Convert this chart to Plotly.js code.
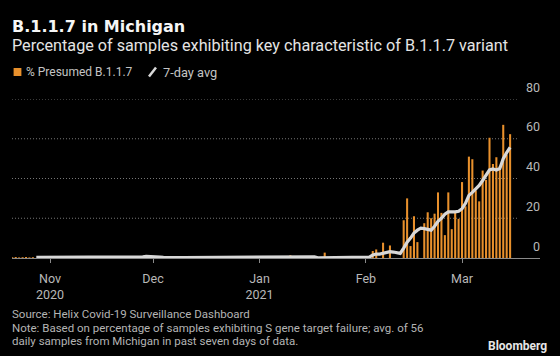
<!DOCTYPE html>
<html>
<head>
<meta charset="utf-8">
<script src="https://cdn.plot.ly/plotly-3.0.1.min.js"></script>
<style>
html,body{margin:0;padding:0;background:#000;}
#chart{width:560px;height:356px;}
</style>
</head>
<body>
<div id="chart"></div>
<script>
// ---- data ----
const startDate = '2020-10-21';
const presumedOct = [0.4,0.5,0.3,0.4,0.5,0.3,0.4,0,0,0,0];
const presumedNov = [0,0,0,0,0,0,0,0,0,0,0,0,0,0,0,0,0,0,0,0,0,0,0,0,0,0,0,0,1.2,0];
const presumedDec = [0.8,0,0,0,0,0,0,0,0,0,0,0,0,0,0,0,0.6,0,0,0,0,0,0,0,0,0,0,0,0,0,0];
const presumedJan = [0,0,0,0,0,0,0,1.0,0,1.4,0,0.8,0,0,0,0,0,0,0,2.7,0,0,0,0,0,0,0,0,0,0,0];
const presumedFeb = [0,0,3.5,4.3,0,7.7,0,6.3,0,0,0,19,30,6,21,8,0,17.5,23,20,22.3,33,22.7,11.5,33,14.5,23,19.7];
const presumedMar = [38.2,26,51,49.7,34,28.5,44,39.3,60.5,47.3,50.7,46.3,67,52,62.3];

const avgOct = [null,null,null,null,null,null,null,0.3,0.3,0.3,0.3];
const avgNov = [0.3,0.3,0.3,0.3,0.3,0.3,0.3,0.3,0.3,0.3,0.3,0.3,0.3,0.3,0.3,0.3,0.3,0.3,0.3,0.3,0.3,0.3,0.3,0.3,0.3,0.3,0.4,0.6,0.8,0.8];
const avgDec = [0.8,0.7,0.5,0.3,0.2,0.2,0.2,0.2,0.2,0.2,0.2,0.2,0.2,0.2,0.2,0.2,0.3,0.3,0.3,0.3,0.3,0.3,0.2,0.2,0.2,0.2,0.2,0.2,0.2,0.2,0.2];
const avgJan = [0.2,0.2,0.2,0.2,0.2,0.2,0.6,0.6,0.6,0.6,0.6,0.6,0.6,0.6,0.6,0.6,0.6,0.1,0.1,0.1,0.5,0.5,0.5,0.5,0.5,0.5,0.5,0.2,0.2,0.2,0.2];
const avgFeb = [0.2,0.5,1.5,2,2,2.3,2.8,3.2,3,2.6,2.3,5,8,10,12.5,14,15,14.8,14.5,14,16,18.5,20,22,23.2,23,23.2,23.5];
const avgMar = [24.8,27.5,31.5,33,34.8,36.5,39,41.5,44.3,44.8,44.3,45,50,53,55.7];

const monthTickVals = ['2020-11-01','2020-12-01','2021-01-01','2021-02-01','2021-03-01'];
const monthTickText = ['Nov<br>2020','Dec','Jan<br>2021','Feb','Mar'];
const yTickVals = [0,20,40,60,80];

// ---- assemble ----
const presumed = [].concat(presumedOct, presumedNov, presumedDec, presumedJan, presumedFeb, presumedMar);
const avg = [].concat(avgOct, avgNov, avgDec, avgJan, avgFeb, avgMar);
const dates = [];
(function(){
  const d0 = new Date(startDate + 'T00:00:00Z');
  for (let i = 0; i < presumed.length; i++) {
    const d = new Date(d0.getTime() + i*86400000);
    dates.push(d.toISOString().slice(0,10));
  }
})();

// pixel helpers (plot area: x 12..540, y 99..258)
const L = 12, R = 540, T = 99, B = 258;
const PX = p => (p - L) / (R - L);
const PY = q => (B - q) / (B - T);

const FONT = 'Roboto, "Noto Sans", sans-serif';
const TFONT = '"DejaVu Sans", Verdana, sans-serif';
const orange = '#e8902c';
const lineGrey = '#d8d8d8';

const traces = [
  {type:'bar', x: dates, y: presumed, marker:{color: orange}, hoverinfo:'skip', showlegend:false},
  {type:'scatter', mode:'lines', x: dates, y: avg, line:{color: lineGrey, width:3.2}, connectgaps:false, hoverinfo:'skip', showlegend:false}
];

const shapes = [];
yTickVals.filter(v => v > 0).forEach(v => {
  shapes.push({type:'line', xref:'paper', yref:'y', x0:0, x1:PX(518), y0:v, y1:v,
    line:{color:'#767676', width:1, dash:'1px,2px'}, layer:'below'});
});
// legend marks
shapes.push({type:'rect', xref:'paper', yref:'paper', x0:PX(13.6), x1:PX(21.4), y0:PY(76), y1:PY(68),
  fillcolor: orange, line:{width:0}});
shapes.push({type:'line', xref:'paper', yref:'paper', x0:PX(149), x1:PX(156), y0:PY(76.5), y1:PY(67.5),
  line:{color: lineGrey, width:2.5}});

const annotations = [];
yTickVals.forEach(v => {
  annotations.push({xref:'paper', yref:'y', x:1, y:v, xanchor:'right', yanchor:'middle', yshift:12, xshift:2,
    text:String(v), showarrow:false, font:{family:FONT, size:12.5, color:'#b8b8b8'}});
});
const txt = (text, px, py, size, color, opts) => Object.assign({
  xref:'paper', yref:'paper', x:PX(px), y:PY(py), xanchor:'left', yanchor:'middle',
  text, showarrow:false, font:{family:FONT, size, color}, borderpad:0
}, opts||{});
annotations.push(txt('<b>B.1.1.7 in Michigan</b>', 11, 26.5, 16, '#f6f6f6', {font:{family:TFONT, size:16, color:'#f6f6f6'}}));
annotations.push(txt('Percentage of samples exhibiting key characteristic of B.1.1.7 variant', 11, 45, 16.2, '#e4e4e4'));
annotations.push(txt('% Presumed B.1.1.7', 24.5, 72, 12, '#c4c4c4'));
annotations.push(txt('7-day avg', 161.5, 72, 12.8, '#c4c4c4'));
annotations.push(txt('Source: Helix Covid-19 Surveillance Dashboard', 11, 314, 11.5, '#b4b4b4'));
annotations.push(txt('Note: Based on percentage of samples exhibiting S gene target failure; avg. of 56', 11, 327.5, 11.5, '#b4b4b4'));
annotations.push(txt('daily samples from Michigan in past seven days of data.', 11, 341, 11.5, '#b4b4b4'));
annotations.push(txt('<b>Bloomberg</b>', 548, 345.5, 12, '#e6e6e6', {xanchor:'right'}));

const layout = {
  width:560, height:356,
  margin:{l:L, r:560-R, t:T, b:356-B, pad:0},
  paper_bgcolor:'#000', plot_bgcolor:'#000',
  bargap:0.4,
  showlegend:false,
  xaxis:{
    type:'date',
    range:['2020-10-20 22:00','2021-03-23 17:00'],
    tickvals: monthTickVals, ticktext: monthTickText,
    ticks:'outside', ticklen:4, tickcolor:'#8a8a8a', tickwidth:1,
    ticklabelstandoff:5,
    showline:true, linecolor:'#8a8a8a', linewidth:1,
    showgrid:false, zeroline:false,
    tickfont:{family:FONT, size:12.5, color:'#b8b8b8'},
    fixedrange:true
  },
  yaxis:{
    range:[0,80], showgrid:false, zeroline:false, showticklabels:false, ticks:'',
    fixedrange:true
  },
  shapes, annotations
};

Plotly.newPlot('chart', traces, layout, {staticPlot:true, displayModeBar:false});
</script>
</body>
</html>
